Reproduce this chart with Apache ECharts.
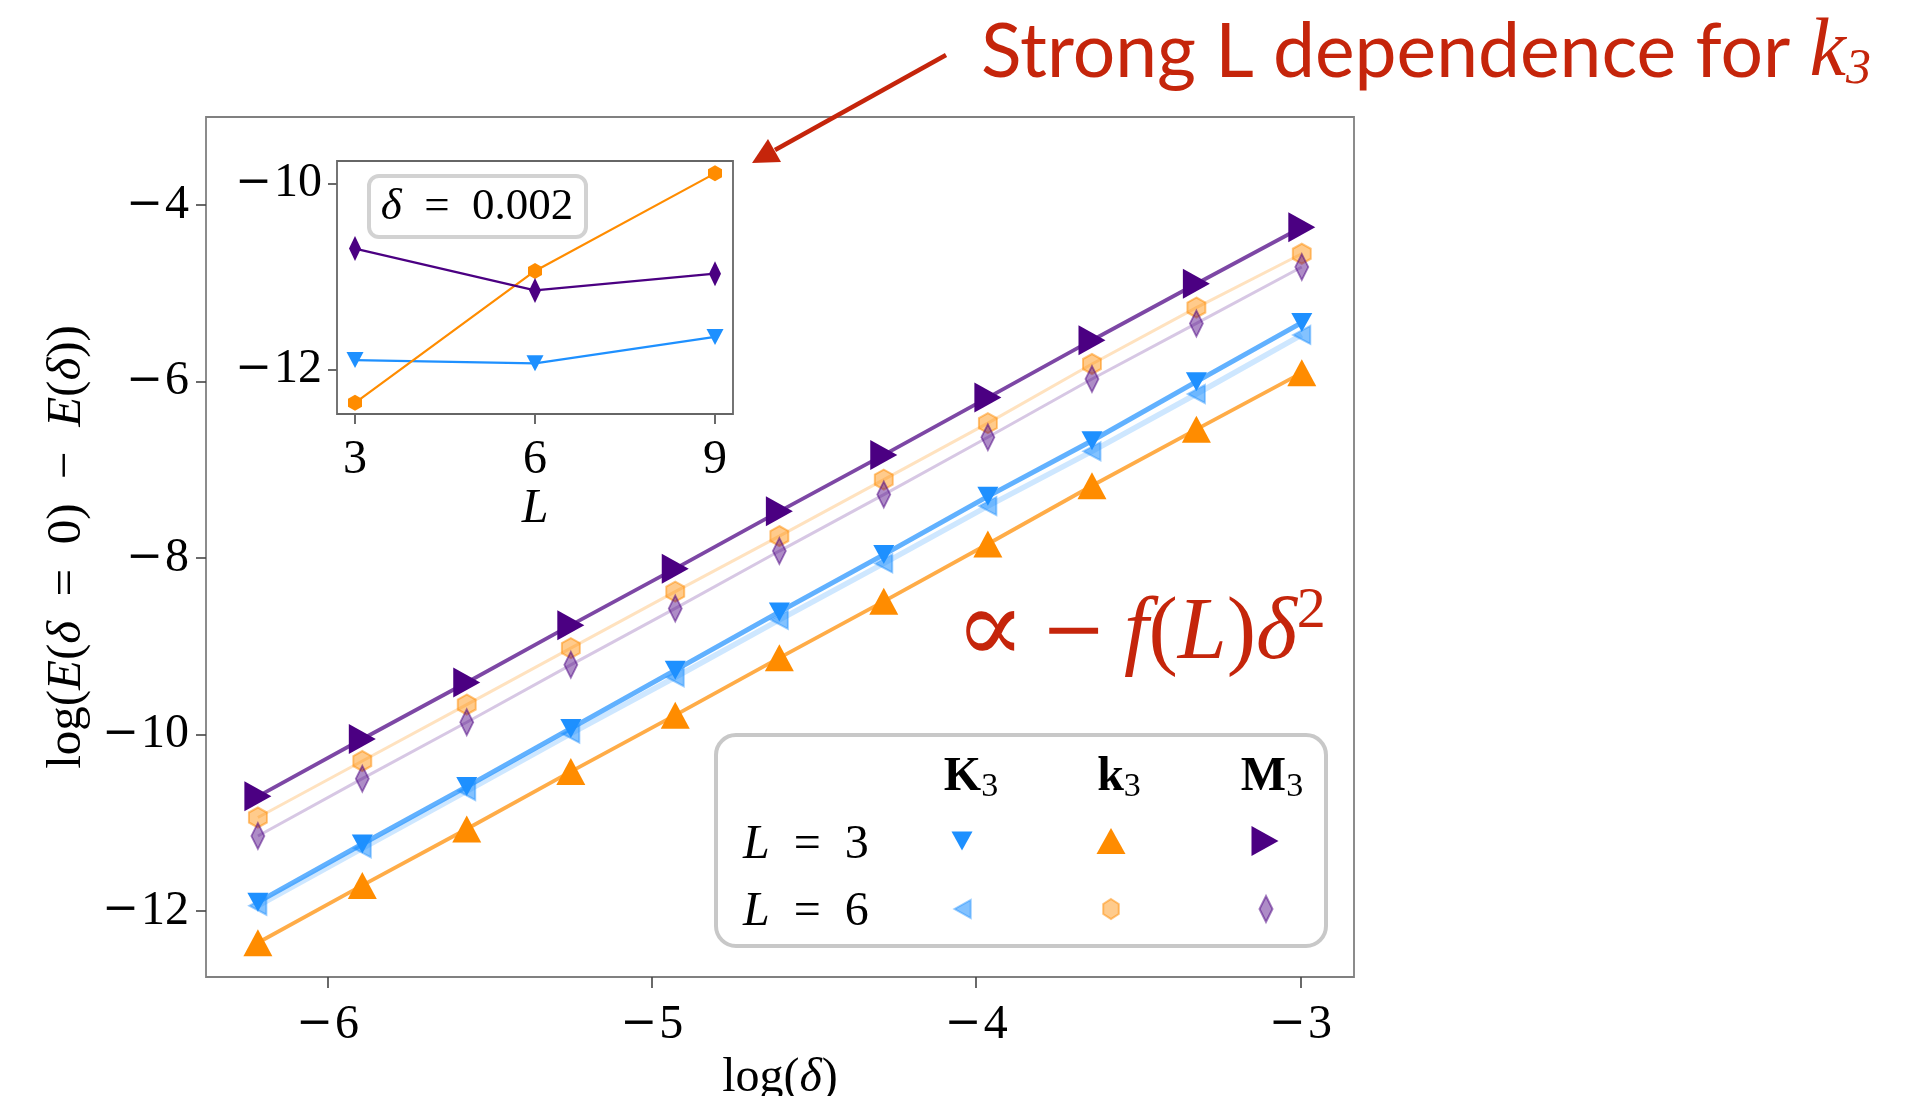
<!DOCTYPE html>
<html>
<head>
<meta charset="utf-8">
<script src="https://cdn.jsdelivr.net/npm/echarts@6/dist/echarts.min.js"></script>
<style>html,body{margin:0;padding:0;background:#fff}#c{width:1927px;height:1096px}</style>
</head>
<body>
<div id="c"></div>
<script>
// ---- data ----
const logDelta = [-6.215, -5.893, -5.571, -5.250, -4.928, -4.607, -4.285, -3.964, -3.643, -3.321, -2.996];
const K3_L3 = [-11.90, -11.24, -10.59, -9.93, -9.27, -8.61, -7.96, -7.30, -6.67, -6.00, -5.33];
const k3_L3 = [-12.36, -11.71, -11.07, -10.42, -9.78, -9.13, -8.49, -7.84, -7.18, -6.54, -5.90];
const M3_L3 = [-10.70, -10.05, -9.41, -8.76, -8.12, -7.47, -6.83, -6.18, -5.53, -4.89, -4.25];
const K3_L6 = [-11.94, -11.29, -10.64, -9.99, -9.35, -8.70, -8.06, -7.41, -6.79, -6.14, -5.47];
const k3_L6 = [-10.94, -10.30, -9.66, -9.02, -8.38, -7.75, -7.11, -6.47, -5.80, -5.16, -4.55];
const M3_L6 = [-11.15, -10.50, -9.86, -9.21, -8.57, -7.92, -7.28, -6.63, -5.97, -5.34, -4.70];

const insetL  = [3, 6, 9];
const insetK3 = [-11.90, -11.935, -11.65];
const insetk3 = [-12.36, -10.94, -9.89];
const insetM3 = [-10.70, -11.15, -10.97];

const xTicks = [-6, -5, -4, -3];
const yTicks = [-12, -10, -8, -6, -4];
const insetXTicks = [3, 6, 9];
const insetYTicks = [-12, -10];

// ---- style ----
const SERIF = "'Liberation Serif', 'DejaVu Serif', serif";
const DSERIF = "'DejaVu Serif', serif";
const SANS = "Lato, 'Open Sans', sans-serif";
const RED = '#c5250b';
const FS = 48;
const PATH = {
  down: 'path://M0,0L20,0L10,18Z',
  up: 'path://M10,0L20,18L0,18Z',
  right: 'path://M0,0L18,10L0,20Z',
  left: 'path://M18,0L18,20L0,10Z',
  hex: 'path://M8,0L15,4.5L15,13.5L8,18L1,13.5L1,4.5Z',
  diamond: 'path://M6,0L12,12L6,24L0,12Z'
};
const tickFmt = v => v < 0 ? '{m|\u2212}{d|' + Math.abs(v) + '}' : '{d|' + v + '}';
const tickRich = {
  m: {fontFamily: DSERIF, fontSize: 44, color: '#000', padding: [0, 2, 0, 0]},
  d: {fontFamily: SERIF, fontSize: FS, color: '#000'}
};
const pts = arr => logDelta.map((x, i) => [x, arr[i]]);

const mainSeries = [
  {name: 'K3 L=3', data: K3_L3, sym: PATH.down, size: [21, 19], line: 'rgba(30,144,255,0.7)', lw: 5, fill: '#1e90ff', border: null},
  {name: 'k3 L=3', data: k3_L3, sym: PATH.up, size: [29, 27], line: 'rgba(255,140,0,0.72)', lw: 3.8, fill: '#ff8c00', border: null},
  {name: 'M3 L=3', data: M3_L3, sym: PATH.right, size: [27, 30], line: 'rgba(75,0,130,0.72)', lw: 3.8, fill: '#4b0082', border: null},
  {name: 'K3 L=6', data: K3_L6, sym: PATH.left, size: [17, 18], line: 'rgba(30,144,255,0.22)', lw: 5.5, fill: 'rgba(30,144,255,0.55)', border: 'rgba(30,144,255,0.45)'},
  {name: 'k3 L=6', data: k3_L6, sym: PATH.hex, size: [18, 20], line: 'rgba(255,140,0,0.25)', lw: 3, fill: 'rgba(255,140,0,0.45)', border: 'rgba(255,140,0,0.5)'},
  {name: 'M3 L=6', data: M3_L6, sym: PATH.diamond, size: [13, 26], line: 'rgba(75,0,130,0.22)', lw: 3, fill: 'rgba(75,0,130,0.45)', border: 'rgba(75,0,130,0.5)'}
];

const series = mainSeries.map(s => ({
  name: s.name, type: 'line', xAxisIndex: 0, yAxisIndex: 0,
  data: pts(s.data), symbol: s.sym, symbolSize: s.size,
  lineStyle: {color: s.line, width: s.lw},
  itemStyle: {color: s.fill, borderColor: s.border || s.fill, borderWidth: s.border ? 2 : 0, opacity: 1},
  emphasis: {disabled: true}, animation: false
}));

const insetDefs = [
  {name: 'inset K3', data: insetK3, sym: PATH.down, size: [17, 16], color: '#1e90ff'},
  {name: 'inset k3', data: insetk3, sym: PATH.hex, size: [14, 16], color: '#ff8c00'},
  {name: 'inset M3', data: insetM3, sym: PATH.diamond, size: [12, 25], color: '#4b0082'}
];
insetDefs.forEach(s => series.push({
  name: s.name, type: 'line', xAxisIndex: 1, yAxisIndex: 1,
  data: insetL.map((l, i) => [l, s.data[i]]), symbol: s.sym, symbolSize: s.size,
  lineStyle: {color: s.color, width: 2.2}, itemStyle: {color: s.color},
  emphasis: {disabled: true}, animation: false, z: 5
}));

// legend symbol table positions (centers)
const legCols = [962, 1111, 1265];
const legRows = [841, 908];
const legends = mainSeries.map((s, i) => {
  const cx = legCols[i % 3], cy = legRows[Math.floor(i / 3)];
  return {
    data: [{name: s.name, icon: s.sym}], left: cx - s.size[0] / 2, top: cy - s.size[1] / 2,
    itemWidth: s.size[0], itemHeight: s.size[1], padding: 0, itemGap: 0,
    selectedMode: false, formatter: () => '', textStyle: {fontSize: 1, color: 'rgba(0,0,0,0)'},
    itemStyle: {color: s.fill, borderColor: s.border || s.fill, borderWidth: s.border ? 2 : 0},
    z: 6
  };
});

const axisCommon = {
  axisLine: {show: false},
  splitLine: {show: false},
  axisTick: {show: true, inside: false, lineStyle: {color: '#444', width: 1.6}},
  axisLabel: {color: '#000', fontFamily: SERIF, fontSize: FS, formatter: tickFmt, rich: tickRich}
};

const tok = (extra) => Object.assign({fontFamily: SERIF, fontSize: FS, color: '#000', fontWeight: 'normal'}, extra || {});

const option = {
  backgroundColor: '#fff',
  animation: false,
  title: [
    {
      text: '{a|Strong L dependence for }{k|k}{s|3}', left: 976, top: 6,
      textStyle: {fontWeight: 'normal', rich: {
        a: {fontFamily: SANS, fontWeight: 'normal', fontSize: 75, color: RED},
        k: {fontFamily: SERIF, fontStyle: 'italic', fontWeight: 'normal', fontSize: 82, color: RED},
        s: {fontFamily: SERIF, fontStyle: 'italic', fontWeight: 'normal', fontSize: 50, color: RED, padding: [34, 0, 0, 0]}
      }}
    },
    {
      text: '{q|\u221D}{m|\u2009\u2212}{i|\u2009f}{a|(}{i|L}{a|)}{i|\u03B4}{p|2}', left: 950, top: 578,
      textStyle: {fontWeight: 'normal', rich: {
        q: {fontFamily: DSERIF, fontWeight: 'normal', fontSize: 104, color: RED},
        m: {fontFamily: DSERIF, fontWeight: 'normal', fontSize: 78, color: RED},
        a: {fontFamily: SERIF, fontWeight: 'normal', fontSize: 88, color: RED},
        i: {fontFamily: SERIF, fontStyle: 'italic', fontWeight: 'normal', fontSize: 88, color: RED},
        p: {fontFamily: SERIF, fontWeight: 'normal', fontSize: 58, color: RED, padding: [0, 0, 46, 0]}
      }}
    }
  ],
  grid: [
    {left: 206, top: 117, width: 1148, height: 860, show: true, borderColor: '#808080', borderWidth: 1.8, backgroundColor: 'transparent', containLabel: false, outerBoundsMode: 'none'},
    {left: 337, top: 161, width: 396, height: 253, show: true, borderColor: '#666', borderWidth: 1.8, backgroundColor: '#fff', containLabel: false, outerBoundsMode: 'none', z: 3}
  ],
  xAxis: [
    Object.assign({}, axisCommon, {
      gridIndex: 0, type: 'value', min: -6.375, max: -2.835,
      axisTick: Object.assign({}, axisCommon.axisTick, {customValues: xTicks, length: 11}),
      axisLabel: Object.assign({}, axisCommon.axisLabel, {customValues: xTicks, margin: 24}),
      name: '{u|log(}{i|\u03B4}{u|)}', nameLocation: 'middle', nameGap: 64,
      nameTextStyle: {rich: {u: tok(), i: tok({fontStyle: 'italic'})}}
    }),
    Object.assign({}, axisCommon, {
      gridIndex: 1, type: 'value', min: 2.7, max: 9.3,
      axisTick: Object.assign({}, axisCommon.axisTick, {customValues: insetXTicks, length: 10}),
      axisLabel: Object.assign({}, axisCommon.axisLabel, {customValues: insetXTicks, margin: 22}),
      name: '{i|L}', nameLocation: 'middle', nameGap: 60,
      nameTextStyle: {rich: {i: tok({fontStyle: 'italic'})}}
    })
  ],
  yAxis: [
    Object.assign({}, axisCommon, {
      gridIndex: 0, type: 'value', min: -12.748, max: -3.0,
      axisTick: Object.assign({}, axisCommon.axisTick, {customValues: yTicks, length: 10}),
      axisLabel: Object.assign({}, axisCommon.axisLabel, {customValues: yTicks, margin: 17}),
      name: '{u|log(}{i|E}{u|(}{i|\u03B4}{u|\u2002=\u20020)\u2002\u2212\u2002}{i|E}{u|(}{i|\u03B4}{u|))}',
      nameLocation: 'middle', nameGap: 110, nameRotate: 90,
      nameTextStyle: {rich: {u: tok({fontSize: 49}), i: tok({fontStyle: 'italic', fontSize: 49})}}
    }),
    Object.assign({}, axisCommon, {
      gridIndex: 1, type: 'value', min: -12.48, max: -9.757,
      axisTick: Object.assign({}, axisCommon.axisTick, {customValues: insetYTicks, length: 9}),
      axisLabel: Object.assign({}, axisCommon.axisLabel, {customValues: insetYTicks, margin: 15})
    })
  ],
  legend: legends,
  series: series,
  graphic: [
    // legend frame
    {type: 'rect', z: 4, shape: {x: 716, y: 735, width: 610, height: 211, r: 20}, style: {fill: 'rgba(255,255,255,0.85)', stroke: '#c8c8c8', lineWidth: 4}},
    {type: 'text', z: 6, style: {x: 971, y: 778, text: '{b|K}{s|3}', align: 'center', verticalAlign: 'middle',
      rich: {b: {fontFamily: SERIF, fontWeight: 'bold', fontSize: 48, fill: '#000'}, s: {fontFamily: SERIF, fontSize: 34, fill: '#000', padding: [18, 0, 0, 0]}}}},
    {type: 'text', z: 6, style: {x: 1119, y: 778, text: '{b|k}{s|3}', align: 'center', verticalAlign: 'middle',
      rich: {b: {fontFamily: SERIF, fontWeight: 'bold', fontSize: 48, fill: '#000'}, s: {fontFamily: SERIF, fontSize: 34, fill: '#000', padding: [18, 0, 0, 0]}}}},
    {type: 'text', z: 6, style: {x: 1272, y: 778, text: '{b|M}{s|3}', align: 'center', verticalAlign: 'middle',
      rich: {b: {fontFamily: SERIF, fontWeight: 'bold', fontSize: 48, fill: '#000'}, s: {fontFamily: SERIF, fontSize: 34, fill: '#000', padding: [18, 0, 0, 0]}}}},
    {type: 'text', z: 6, style: {x: 743, y: 845, text: '{i|L}{n|\u2002=\u20023}', align: 'left', verticalAlign: 'middle',
      rich: {i: {fontFamily: SERIF, fontStyle: 'italic', fontSize: FS, fill: '#000'}, n: {fontFamily: SERIF, fontSize: FS, fill: '#000'}}}},
    {type: 'text', z: 6, style: {x: 743, y: 912, text: '{i|L}{n|\u2002=\u20026}', align: 'left', verticalAlign: 'middle',
      rich: {i: {fontFamily: SERIF, fontStyle: 'italic', fontSize: FS, fill: '#000'}, n: {fontFamily: SERIF, fontSize: FS, fill: '#000'}}}},
    // inset delta box
    {type: 'rect', z: 6, shape: {x: 369, y: 176, width: 217, height: 61, r: 10}, style: {fill: '#fff', stroke: '#d2d2d2', lineWidth: 4}},
    {type: 'text', z: 7, style: {x: 477, y: 207, text: '{i|\u03B4}{n|\u2002=\u20020.002}', align: 'center', verticalAlign: 'middle',
      rich: {i: {fontFamily: SERIF, fontStyle: 'italic', fontSize: 45, fill: '#000'}, n: {fontFamily: SERIF, fontSize: 45, fill: '#000'}}}},
    // annotation arrow
    {type: 'line', z: 8, shape: {x1: 946, y1: 55, x2: 775, y2: 150}, style: {stroke: RED, lineWidth: 4.5}},
    {type: 'polygon', z: 8, shape: {points: [[752, 163], [781, 162], [768, 139]]}, style: {fill: RED}}
  ]
};

const chart = echarts.init(document.getElementById('c'), null, {renderer: 'canvas'});
chart.setOption(option);
</script>
</body>
</html>
